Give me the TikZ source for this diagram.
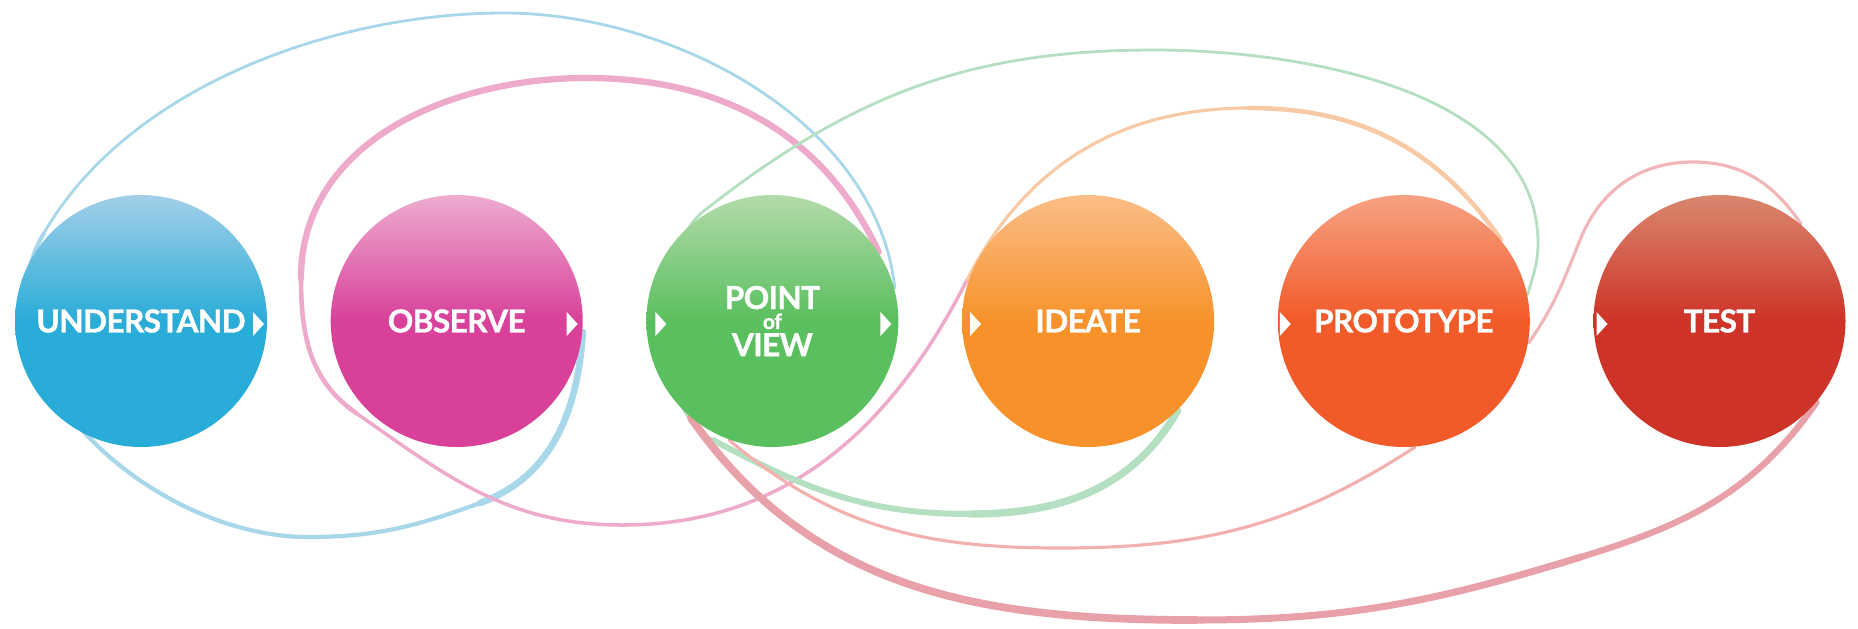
\documentclass[tikz,border=0pt]{standalone}
\usepackage{fontspec}
\newfontfamily\stagefont{Lato}[LetterSpace=-2, BoldFeatures={FakeBold=1}]
\usetikzlibrary{positioning, backgrounds}

\definecolor{understandtop}{HTML}{A3CFE8}
\definecolor{understandbot}{HTML}{29ACD8}
\definecolor{observetop}{HTML}{EEACD0}
\definecolor{observebot}{HTML}{D8409A}
\definecolor{povtop}{HTML}{B3DBAA}
\definecolor{povbot}{HTML}{5ABF5E}
\definecolor{ideatetop}{HTML}{FBBD87}
\definecolor{ideatebot}{HTML}{F7922B}
\definecolor{prototypetop}{HTML}{F7A283}
\definecolor{prototypebot}{HTML}{F15A29}
\definecolor{testtop}{HTML}{D9876F}
\definecolor{testbot}{HTML}{CD3327}

\definecolor{bluestrand}{HTML}{A8D7EA}
\definecolor{pinkstrand}{HTML}{EEAACA}
\definecolor{greenstrand}{HTML}{B4DFC0}
\definecolor{orangestrand}{HTML}{F8C9A5}
\definecolor{salmonstrand}{HTML}{F2B1AE}
\definecolor{redstrand}{HTML}{E9A1A9}
\definecolor{teststrand}{HTML}{F0B6B9}

\tikzstyle{stage} = [circle, minimum size=2.52cm, inner sep=0pt, align=center, text=white, font=\stagefont\bfseries\fontsize{9}{9}\selectfont]
\tikzstyle{strand} = [line cap=round, line join=round]
\tikzset{paint/.style 2 args={top color=#1, bottom color=#2, middle color=#2}}

% white arrow mark inside a circle
\newcommand{\stagemark}[1]{\fill[white] (#1) ++(0,0.12) -- ++(0.11,-0.12) -- ++(-0.11,-0.12) -- cycle;}

\begin{document}
\begin{tikzpicture}[node distance=3.157cm]
\useasboundingbox (0,0) rectangle (18.58,6.28);

\node (understand) [stage, paint={understandtop}{understandbot}] at (1.41,3.07) {UNDERSTAND};
\node (observe) [stage, paint={observetop}{observebot}, right of=understand] {OBSERVE};
\node (pov) [stage, paint={povtop}{povbot}, right of=observe] {POINT\\[-3.3pt]{\fontsize{6}{6}\selectfont of}\\[-1.3pt]VIEW};
\node (ideate) [stage, paint={ideatetop}{ideatebot}, right of=pov] {IDEATE};
\node (prototype) [stage, paint={prototypetop}{prototypebot}, right of=ideate] {PROTOTYPE};
\node (test) [stage, paint={testtop}{testbot}, right of=prototype] {TEST};

\stagemark{[xshift=1.12cm,yshift=-0.03cm]understand.center}
\stagemark{[xshift=1.10cm,yshift=-0.03cm]observe.center}
\stagemark{[xshift=-1.17cm,yshift=-0.03cm]pov.center}
\stagemark{[xshift=1.08cm,yshift=-0.03cm]pov.center}
\stagemark{[xshift=-1.18cm,yshift=-0.03cm]ideate.center}
\stagemark{[xshift=-1.24cm,yshift=-0.03cm]prototype.center}
\stagemark{[xshift=-1.23cm,yshift=-0.03cm]test.center}

\coordinate (turn) at (9.67,3.48);

\begin{scope}[on background layer]
% blue loop
\draw [strand, draw=bluestrand, line width=0.8pt] (pov.15) to[out=96, in=0, looseness=0.9] (5.04,6.15)
      to[out=180, in=60, looseness=0.85] (0.44,3.95);
\draw [strand, draw=bluestrand, line width=1.2pt] (0.44,3.95) to[out=240, in=180] (3.08,0.91)
      to[out=0, in=200] (4.80,1.25);
\draw [strand, draw=bluestrand, line width=1.9pt] (4.80,1.25) to[out=20, in=266] (observe.-5);
% pink loop
\draw [strand, draw=pinkstrand, line width=1.8pt] (pov.33) to[out=115, in=0] (5.86,5.50)
      to[out=180, in=90] (3.01,3.50);
\draw [strand, draw=pinkstrand, line width=1.3pt] (3.01,3.50) to[out=270, in=145] (3.56,2.15);
\draw [strand, draw=pinkstrand, line width=1pt] (3.56,2.15) to[out=-35, in=180] (6.22,1.03)
      to[out=0, in=243] (turn);
% orange arc
\draw [strand, draw=orangestrand, line width=0.9pt] (turn) to[out=63, in=180] (12.49,5.20);
\draw [strand, draw=orangestrand, line width=1.3pt] (12.49,5.20) to[out=0, in=125] (prototype.40);
% green loop
\draw [strand, draw=greenstrand, line width=0.8pt] (prototype.12) to[out=75, in=270] (15.38,3.85)
      to[out=90, in=0, looseness=0.9] (11.54,5.78)
      to[out=180, in=38] (7.05,4.18)
      to[out=218, in=152, looseness=0.8] (7.13,1.88);
\draw [strand, draw=greenstrand, line width=1.7pt] (7.13,1.88) to[out=-28, in=180] (9.70,1.14);
\draw [strand, draw=greenstrand, line width=2.1pt] (9.70,1.14) to[out=0, in=240] (ideate.-45);
% salmon line
\draw [strand, draw=salmonstrand, line width=0.9pt] (pov.-110) to[out=-40, in=180] (10.60,0.80)
      to[out=0, in=213] (prototype.-85);
% red sweep
\draw [strand, draw=redstrand, line width=2.2pt] (pov.-130) to[out=-55, in=180] (11.96,0.08);
\draw [strand, draw=redstrand, line width=2pt] (11.96,0.08) to[out=0, in=197] (15.81,0.71);
\draw [strand, draw=redstrand, line width=1.8pt] (15.81,0.71) to[out=17, in=235] (test.-40);
% test loop
\draw [strand, draw=teststrand, line width=0.9pt] (prototype.-10) to[out=55, in=248] (15.80,3.88)
      to[out=68, in=180] (16.93,4.66)
      to[out=0, in=124] (test.50);
\end{scope}

\end{tikzpicture}
\end{document}
